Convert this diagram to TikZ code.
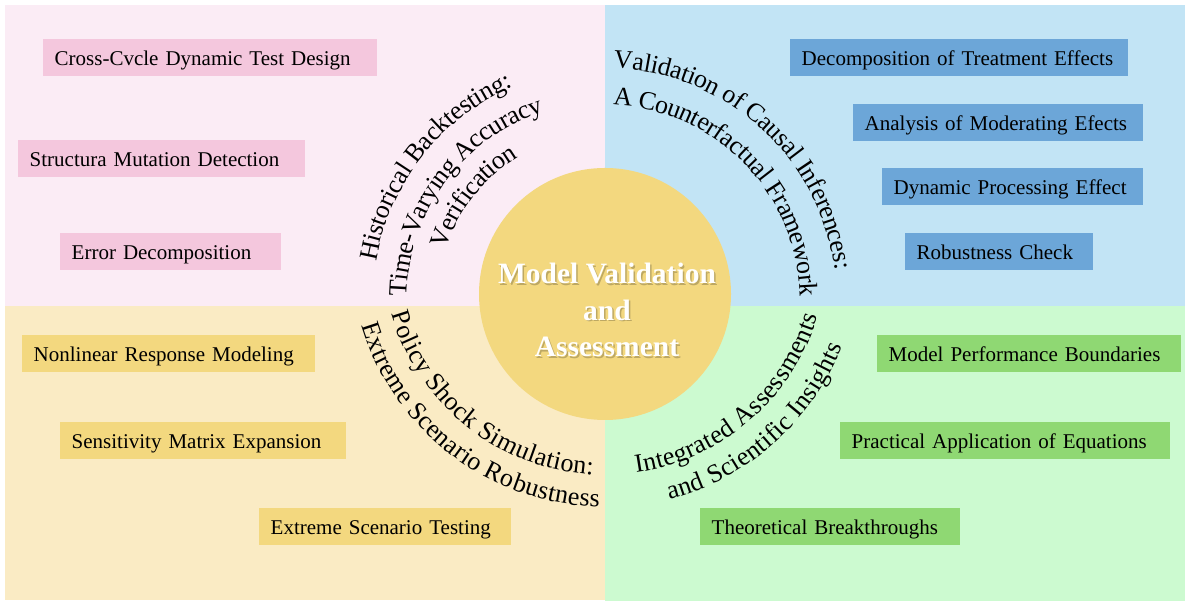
\documentclass[tikz,border=0pt]{standalone}
\usepackage{fontspec}
\setmainfont{Liberation Serif}
\usetikzlibrary{decorations.text,calc}

\definecolor{pinkbg}{HTML}{FBECF5}
\definecolor{pinkbox}{HTML}{F4C7DD}
\definecolor{bluebg}{HTML}{C2E4F5}
\definecolor{bluebox}{HTML}{6CA6D8}
\definecolor{yelbg}{HTML}{FAEBC4}
\definecolor{yelbox}{HTML}{F3D87F}
\definecolor{grnbg}{HTML}{CCFAD0}
\definecolor{grnbox}{HTML}{8FD873}

\begin{document}
\begin{tikzpicture}[x=1pt,y=1pt,
  itembox/.style={anchor=north west, minimum height=37pt, inner xsep=11.5pt,
    inner ysep=0pt, align=left, font=\fontsize{21}{25}\selectfont,
    text height=17pt, text depth=2pt},
  arctext/.style={decorate, decoration={text along path, text align=center, raise=-8pt}},
  titletext/.style={font=\fontsize{29.5}{36.5}\selectfont\bfseries, align=center}]

\useasboundingbox (0,0) rectangle (1185,601);
\fill[white] (0,0) rectangle (1185,601);

% quadrants
\fill[pinkbg] (5,295) rectangle (605,596);
\fill[bluebg] (605,295) rectangle (1185,596);
\fill[yelbg]  (5,0.5) rectangle (605,295);
\fill[grnbg]  (605,0) rectangle (1185,295);

\coordinate (C) at (605,307);
\coordinate (CT) at (605,301);
\coordinate (CB) at (605,348);

% boxes top-left
\node[itembox, fill=pinkbox, text width=311pt] (tl1) at (43,562) {Cross-Cvcle Dynamic Test Design};
\node[itembox, fill=pinkbox, text width=264pt] (tl2) at (18,461) {Structura Mutation Detection};
\node[itembox, fill=pinkbox, text width=198pt] (tl3) at (60,368) {Error Decomposition};

% boxes top-right
\node[itembox, fill=bluebox, text width=315pt] (tr1) at (790,562) {Decomposition of Treatment Effects};
\node[itembox, fill=bluebox, text width=267pt] (tr2) at (853,497) {Analysis of Moderating Efects};
\node[itembox, fill=bluebox, text width=238pt] (tr3) at (882,433) {Dynamic Processing Effect};
\node[itembox, fill=bluebox, text width=165pt] (tr4) at (905,368) {Robustness Check};

% boxes bottom-left
\node[itembox, fill=yelbox, text width=270pt] (bl1) at (22,266) {Nonlinear Response Modeling};
\node[itembox, fill=yelbox, text width=263pt] (bl2) at (60,179) {Sensitivity Matrix Expansion};
\node[itembox, fill=yelbox, text width=229pt] (bl3) at (259,93) {Extreme Scenario Testing};

% boxes bottom-right
\node[itembox, fill=grnbox, text width=281pt] (br1) at (877,266) {Model Performance Boundaries};
\node[itembox, fill=grnbox, text width=307pt] (br2) at (840,179) {Practical Application of Equations};
\node[itembox, fill=grnbox, text width=237pt] (br3) at (700,93) {Theoretical Breakthroughs};

% centre
\node[circle, fill=yelbox, minimum size=252pt, inner sep=0pt] (core) at (C) {};
\node[titletext, text=black, opacity=0.22] (coreshadow) at (608.5,289.5) {Model Validation\\and\\Assessment};
\node[titletext, text=white] (coretitle) at (607,291) {Model Validation\\and\\Assessment};

% curved texts top-left
\path[arctext, decoration={text={|\fontsize{26}{30}\selectfont|Historical Backtesting:}}]
  ($(CT)+(201.8:240)$) arc[start angle=201.8, end angle=81.8, radius=240];
\path[arctext, decoration={text={|\fontsize{26}{30}\selectfont|Time-Varying Accuracy}}]
  ($(CT)+(203.6:206)$) arc[start angle=203.6, end angle=83.6, radius=206];
\path[arctext, decoration={text={|\fontsize{26}{30}\selectfont|Verification}}]
  ($(CT)+(191.8:175)$) arc[start angle=191.8, end angle=91.8, radius=175];

% curved texts top-right
\path[arctext, decoration={text={|\fontsize{26}{30}\selectfont|Validation of Causal Inferences:}}]
  ($(CT)+(107.6:240)$) arc[start angle=107.6, end angle=-12.4, radius=240];
\path[arctext, decoration={text={|\fontsize{26}{30}\selectfont|A Counterfactual Framework}}]
  ($(CT)+(104.3:203)$) arc[start angle=104.3, end angle=-15.7, radius=203];

% curved texts bottom-left
\path[arctext, decoration={text={|\fontsize{26}{30}\selectfont|Policy Shock Simulation:}}]
  ($(CB)+(171.4:214)$) arc[start angle=171.4, end angle=291.4, radius=214];
\path[arctext, decoration={text={|\fontsize{26}{30}\selectfont|Extreme Scenario Robustness}}]
  ($(CB)+(172.65:246)$) arc[start angle=172.65, end angle=292.65, radius=246];

% curved texts bottom-right
\path[arctext, decoration={text={|\fontsize{26}{30}\selectfont|Integrated Assessments}}]
  ($(CB)+(250.75:214)$) arc[start angle=250.75, end angle=370.75, radius=214];
\path[arctext, decoration={text={|\fontsize{26}{30}\selectfont|and Scientific Insights}}]
  ($(CB)+(251.55:247)$) arc[start angle=251.55, end angle=371.55, radius=247];

\end{tikzpicture}
\end{document}
